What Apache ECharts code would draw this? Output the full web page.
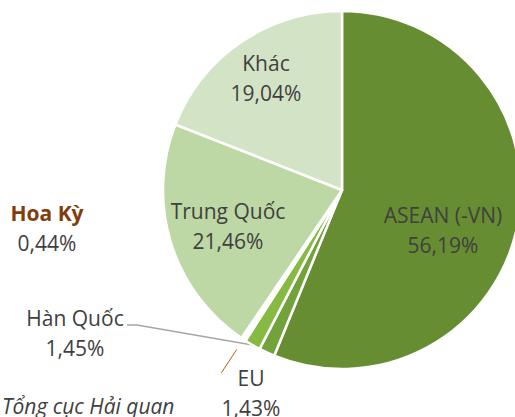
<!DOCTYPE html>
<html>
<head>
<meta charset="utf-8">
<script src="https://cdn.jsdelivr.net/npm/echarts@6/dist/echarts.min.js"></script>
<style>
  body { margin: 0; padding: 0; background: #fff; }
  #chart { width: 515px; height: 417px; }
</style>
</head>
<body>
<div id="chart"></div>
<script>
  const names = ['ASEAN (-VN)', 'EU', 'Hàn Quốc', 'Hoa Kỳ', 'Trung Quốc', 'Khác'];
  const shares = [56.19, 1.43, 1.45, 0.44, 21.46, 19.04];
  const sliceColors = ['#678D32', '#71A33A', '#87BA43', '#FFFFFF', '#BDD7A5', '#D3E4C6'];
  const source = 'Tổng cục Hải quan';

  // label centres
  const labelPos = [[443, 230], [251, 393], [75, 333], [47, 228], [228, 226], [266, 78]];
  const outside = { 1: true, 2: true, 3: true };

  const fmt = v => v.toFixed(2).replace('.', ',') + '%';

  const chart = echarts.init(document.getElementById('chart'), null, { renderer: 'svg' });

  chart.setOption({
    animation: false,
    textStyle: { fontFamily: 'Open Sans' },
    graphic: [{
      type: 'text',
      left: 2,
      top: 395,
      style: { text: source, font: 'italic 21px "Open Sans"', fill: '#404040' }
    }],
    series: [{
      type: 'pie',
      center: [342, 190],
      radius: 179,
      startAngle: 90,
      clockwise: true,
      avoidLabelOverlap: false,
      itemStyle: { borderColor: '#fff', borderWidth: 2.5 },
      label: {
        show: true,
        position: 'inside',
        color: '#404040',
        fontSize: 21,
        lineHeight: 30,
        align: 'center',
        formatter: p => p.name + '\n' + fmt(p.value),
        rich: {
          us: { fontSize: 21, fontWeight: 'bold', color: '#843C0C', lineHeight: 30 }
        }
      },
      labelLine: { show: false },
      labelLayout: function (params) {
        const i = params.dataIndex;
        const lp = params.labelLinePoints;
        const out = { x: labelPos[i][0], y: labelPos[i][1], align: 'center', verticalAlign: 'middle' };
        if (lp && i === 2) {
          out.labelLinePoints = [lp[0], [137, 325], [127, 325]];
        } else if (lp && i === 3) {
          const a = lp[0], b = lp[1];
          out.labelLinePoints = [[a[0] + (b[0] - a[0]) * 0.3, a[1] + (b[1] - a[1]) * 0.3], b];
        }
        return out;
      },
      data: names.map((n, i) => {
        const d = { name: n, value: shares[i], itemStyle: { color: sliceColors[i] } };
        if (i === 3) {
          d.label = { position: 'outside', formatter: p => '{us|' + p.name + '}\n' + fmt(p.value) };
          d.labelLine = { show: true, length: 40, length2: 0, lineStyle: { color: '#C55A11', width: 1 } };
        } else if (i === 2) {
          d.label = { position: 'outside' };
          d.labelLine = { show: true, length: 10, length2: 10, lineStyle: { color: '#A6A6A6', width: 1.5 } };
        } else if (outside[i]) {
          d.label = { position: 'outside' };
          d.labelLine = { show: false };
        }
        return d;
      })
    }]
  });
</script>
</body>
</html>
